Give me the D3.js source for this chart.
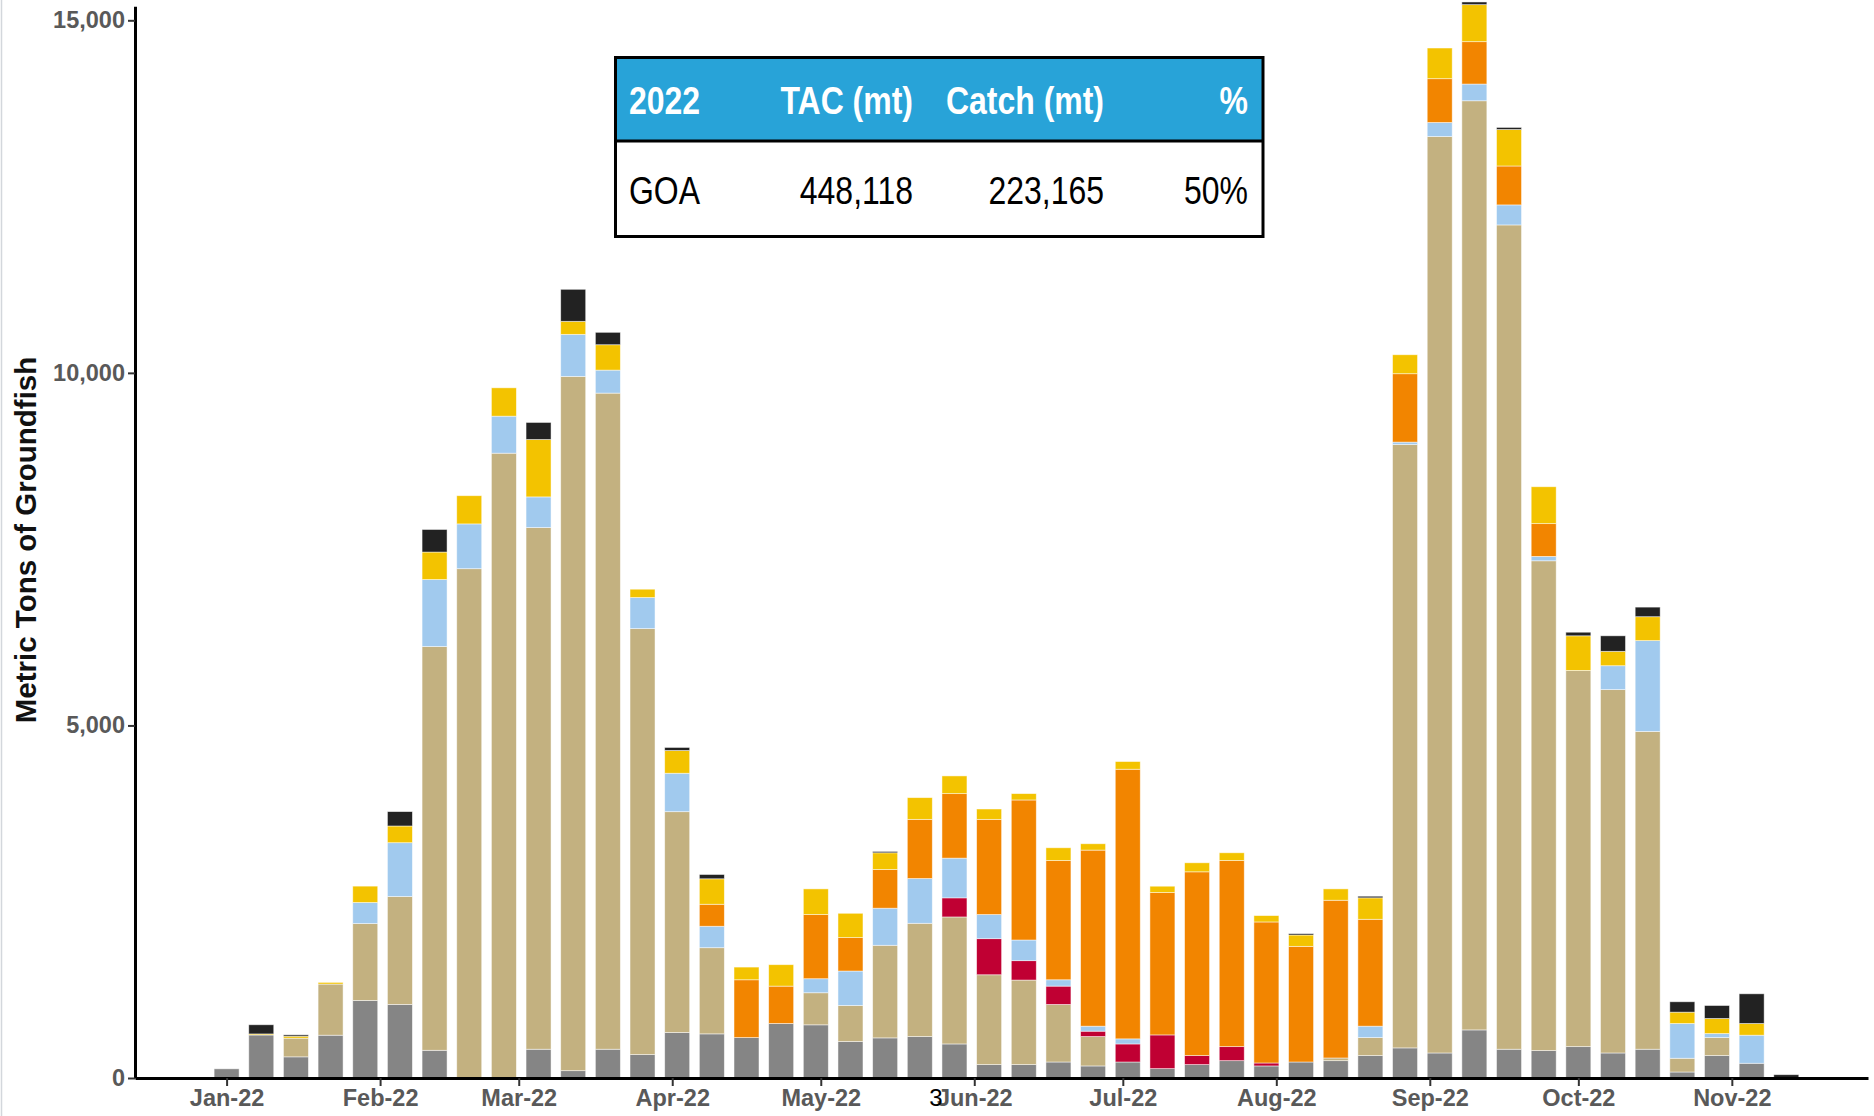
<!DOCTYPE html>
<html>
<head>
<meta charset="utf-8">
<script src="https://cdn.jsdelivr.net/npm/d3@7"></script>
<style>
  body { margin: 0; background: #fff; }
  #chart { font-family: "Liberation Sans", Arial, sans-serif; }
</style>
</head>
<body>
<div id="chart"></div>
<script>
// weekly catch, week ending dates
const weeks = [
  "2022-01-01","2022-01-08","2022-01-15","2022-01-22","2022-01-29",
  "2022-02-05","2022-02-12","2022-02-19","2022-02-26",
  "2022-03-05","2022-03-12","2022-03-19","2022-03-26",
  "2022-04-02","2022-04-09","2022-04-16","2022-04-23","2022-04-30",
  "2022-05-07","2022-05-14","2022-05-21","2022-05-28",
  "2022-06-04","2022-06-11","2022-06-18","2022-06-25",
  "2022-07-02","2022-07-09","2022-07-16","2022-07-23","2022-07-30",
  "2022-08-06","2022-08-13","2022-08-20","2022-08-27",
  "2022-09-03","2022-09-10","2022-09-17","2022-09-24",
  "2022-10-01","2022-10-08","2022-10-15","2022-10-22","2022-10-29",
  "2022-11-05","2022-11-12"
];

const gray   = [130,610,300,607,1100,1043,393,0,0,408,104,408,332,645,626,573,773,754,517,569,588,483,190,190,227,171,227,133,190,246,171,227,246,318,427,355,682,408,389,445,355,408,85,318,209,0];
const tan    = [0,0,265,725,1090,1531,5726,7223,8861,7398,9846,9305,6041,3132,1222,0,0,455,511,1313,1606,1801,1274,1199,816,417,0,0,0,0,0,0,38,255,8556,12997,13177,11690,6946,5335,5153,4507,195,255,0,0];
const red    = [0,0,0,0,0,0,0,0,0,0,0,0,0,0,0,0,0,0,0,0,0,271,512,275,260,76,256,478,128,199,42,0,0,0,0,0,0,0,0,0,0,0,0,0,0,0];
const blue   = [0,0,0,0,299,763,950,635,525,435,596,326,441,545,304,0,0,199,489,526,635,563,342,293,90,71,72,0,0,0,0,0,0,162,35,199,237,284,62,0,339,1288,493,57,398,0];
const orange = [0,0,0,0,0,0,0,0,0,0,0,0,0,0,312,820,530,910,474,549,839,915,1350,1986,1692,2497,3824,2019,2606,2640,2000,1640,2237,1516,970,621,601,552,465,0,0,0,0,0,0,0];
const yellow = [0,15,28,24,232,237,390,400,402,814,185,360,118,323,361,180,304,364,345,237,308,251,147,90,180,90,109,90,128,109,90,161,161,304,269,435,525,517,523,491,204,339,161,214,166,0];
const black  = [0,130,19,0,0,204,320,0,0,242,454,176,0,43,61,0,0,0,0,19,0,0,0,0,0,0,0,0,0,0,0,19,0,23,0,0,38,30,0,51,220,136,147,184,421,47];

const seriesKeys = ["gray","tan","red","blue","orange","yellow","black"];
const seriesColors = ["#858585","#C3B180","#C00033","#A1CAEE","#F28500","#F3C300","#222222"];

const monthTicks = ["2022-01-01","2022-02-01","2022-03-01","2022-04-01","2022-05-01","2022-06-01",
                    "2022-07-01","2022-08-01","2022-09-01","2022-10-01","2022-11-01"];
const yTicks = [0, 5000, 10000, 15000];

const tableHeader = ["2022", "TAC (mt)", "Catch (mt)", "%"];
const tableRow = ["GOA", "448,118", "223,165", "50%"];

const width = 1874;
const height = 1116;
const parse = d3.timeParse("%Y-%m-%d");

const svg = d3.select("#chart").append("svg")
    .attr("width", width)
    .attr("height", height);

// faint left frame
svg.append("line")
    .attr("x1", 1.5).attr("x2", 1.5)
    .attr("y1", 0).attr("y2", height)
    .attr("stroke", "#d3d7dc")
    .attr("stroke-width", 1.5);

const x = d3.scaleTime()
    .domain([new Date(2021, 11, 13, 12), new Date(2022, 10, 28, 12)])
    .range([135, 1868]);

const y = d3.scaleLinear()
    .domain([0, 15200])
    .range([1078, 6.2]);

const rows = weeks.map(function(w, i) {
    return {
        date: parse(w),
        gray: gray[i], tan: tan[i], red: red[i], blue: blue[i],
        orange: orange[i], yellow: yellow[i], black: black[i]
    };
});

const stacked = d3.stack().keys(seriesKeys)(rows);
const barWidth = 25;

svg.append("g").selectAll("g")
    .data(stacked)
    .enter().append("g")
    .attr("fill", function(d, i) { return seriesColors[i]; })
    .selectAll("rect")
    .data(function(d) { return d.filter(function(s) { return s[1] - s[0] > 0; }); })
    .enter().append("rect")
    .attr("x", function(d) { return x(d.data.date) - barWidth / 2; })
    .attr("width", barWidth)
    .attr("y", function(d) { return y(d[1]); })
    .attr("height", function(d) { return y(d[0]) - y(d[1]); })
    .attr("stroke", "#fff")
    .attr("stroke-opacity", 0.6)
    .attr("stroke-width", 0.8);

const labelFont = "'Liberation Sans', Arial, sans-serif";

// x axis
const xAxis = svg.append("g")
    .attr("transform", "translate(0," + y(0) + ")")
    .call(d3.axisBottom(x)
        .tickValues(monthTicks.map(parse))
        .tickFormat(d3.timeFormat("%b-%y"))
        .tickSize(8)
        .tickSizeOuter(0)
        .tickPadding(3));

xAxis.select(".domain").attr("stroke", "#000").attr("stroke-width", 3);
xAxis.selectAll(".tick line").attr("stroke", "#333").attr("stroke-width", 2);
xAxis.selectAll(".tick text")
    .attr("fill", "#595959")
    .style("font-size", "23.5px")
    .style("font-weight", "bold")
    .style("font-family", labelFont);

// stray "3" printed over the Jun label
xAxis.selectAll(".tick").filter(function(d) { return d3.timeFormat("%b")(d) === "Jun"; })
    .each(function() {
        const t = d3.select(this).select("text");
        const bb = t.node().getBBox();
        d3.select(this).append("text")
            .attr("x", bb.x - 1)
            .attr("y", 11)
            .attr("dy", "0.71em")
            .attr("fill", "#000")
            .style("font-size", "24px")
            .style("font-family", labelFont)
            .text("3");
    });

// y axis
const yAxis = svg.append("g")
    .attr("transform", "translate(135,0)")
    .call(d3.axisLeft(y)
        .tickValues(yTicks)
        .tickFormat(d3.format(","))
        .tickSize(7)
        .tickSizeOuter(0)
        .tickPadding(3));

yAxis.select(".domain").attr("stroke", "#000").attr("stroke-width", 3);
yAxis.selectAll(".tick line").attr("stroke", "#333").attr("stroke-width", 2);
yAxis.selectAll(".tick text")
    .attr("fill", "#595959")
    .style("font-size", "23.5px")
    .style("font-weight", "bold")
    .style("font-family", labelFont);

svg.append("text")
    .attr("transform", "translate(36,540) rotate(-90)")
    .attr("text-anchor", "middle")
    .attr("fill", "#111")
    .style("font-size", "29.5px")
    .style("font-weight", "bold")
    .text("Metric Tons of Groundfish");

// summary table
const table = svg.append("g");
const tLeft = 615.5, tRight = 1263, tTop = 57.5, tMid = 141, tBottom = 236.5;

table.append("rect")
    .attr("x", tLeft).attr("y", tTop)
    .attr("width", tRight - tLeft).attr("height", tMid - tTop)
    .attr("fill", "#28A3D8");

table.append("rect")
    .attr("x", tLeft).attr("y", tTop)
    .attr("width", tRight - tLeft).attr("height", tBottom - tTop)
    .attr("fill", "none")
    .attr("stroke", "#000")
    .attr("stroke-width", 3);

table.append("line")
    .attr("x1", tLeft).attr("x2", tRight)
    .attr("y1", tMid).attr("y2", tMid)
    .attr("stroke", "#000")
    .attr("stroke-width", 3);

// column anchors: first column left aligned, others right aligned
const colX = [629, 913, 1104, 1248];
const colAnchor = ["start", "end", "end", "end"];

function cell(txt, i, baseY, bold, color) {
    table.append("g")
        .attr("transform", "translate(" + colX[i] + "," + baseY + ") scale(0.82,1)")
        .append("text")
        .attr("text-anchor", colAnchor[i])
        .attr("fill", color)
        .style("font-size", "39px")
        .style("font-weight", bold ? "bold" : "normal")
        .style("font-family", labelFont)
        .text(txt);
}

tableHeader.forEach(function(h, i) { cell(h, i, 114, true, "#fff"); });
tableRow.forEach(function(v, i) { cell(v, i, 204, false, "#000"); });
</script>
</body>
</html>
